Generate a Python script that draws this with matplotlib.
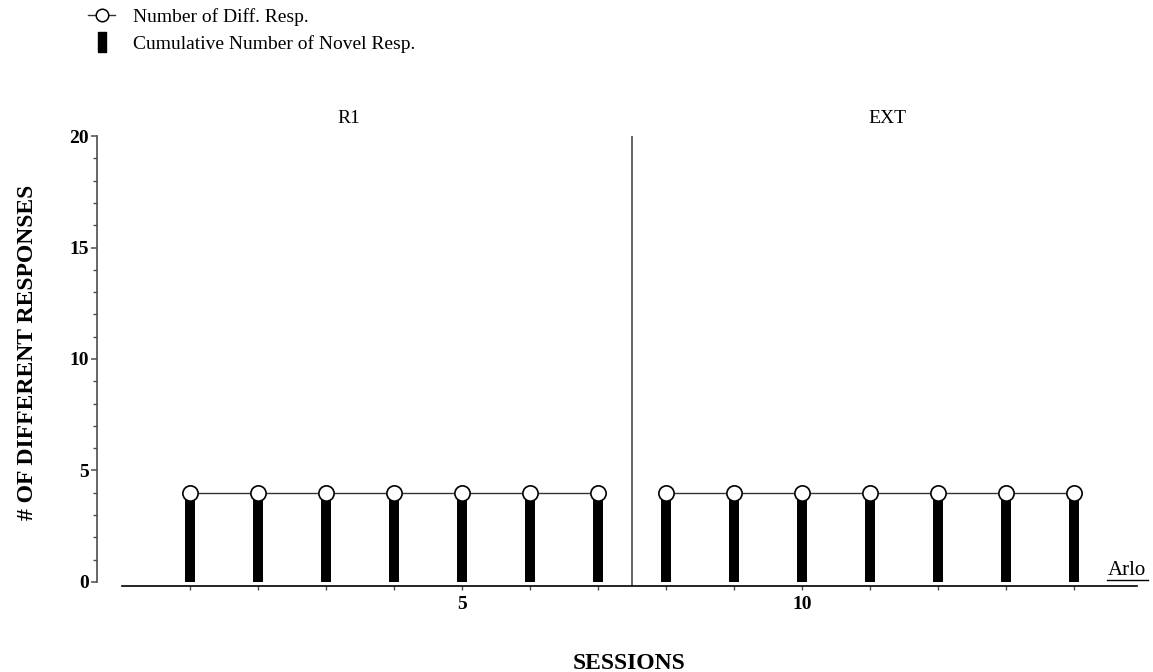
import numpy as np
import matplotlib.pyplot as plt
from matplotlib.lines import Line2D

plt.rcParams['font.family'] = ['Liberation Serif', 'DejaVu Serif']

# data
sessions_r1 = [1, 2, 3, 4, 5, 6, 7]
sessions_ext = [8, 9, 10, 11, 12, 13, 14]
diff_r1 = [4, 4, 4, 4, 4, 4, 4]
diff_ext = [4, 4, 4, 4, 4, 4, 4]
novel_cum = [4, 4, 4, 4, 4, 4, 4, 4, 4, 4, 4, 4, 4, 4]
phase_labels = ['R1', 'EXT']
phase_change = 7.5
subject = 'Arlo'

fig = plt.figure(figsize=(11.53, 6.72), dpi=100)
ax = fig.add_axes([0.0841, 0.128, 0.9046, 0.6696])

spine_col = '#4d4d4d'
all_sessions = sessions_r1 + sessions_ext

# cumulative novel responses (bars)
ax.bar(all_sessions, novel_cum, width=0.16, color='black', zorder=2)

# number of different responses, line broken at the phase change
for xs, ys in [(sessions_r1, diff_r1), (sessions_ext, diff_ext)]:
    ax.plot(xs, ys, color='#333333', lw=1.0, marker='o', ms=11,
            mfc='white', mec='black', mew=1.2, zorder=3)

ax.set_xlim(-0.368, 14.97)
ax.set_ylim(-0.18, 20)

# phase change line
ax.axvline(phase_change, color=spine_col, lw=1.2)
ax.text(3.33, 20.8, phase_labels[0], ha='center', va='center', fontsize=14,
        clip_on=False)
ax.text(11.25, 20.8, phase_labels[1], ha='center', va='center', fontsize=14,
        clip_on=False)

# spines
for s in ['top', 'right']:
    ax.spines[s].set_visible(False)
ax.spines['left'].set_bounds(0, 20)
ax.spines['left'].set_color(spine_col)
ax.spines['left'].set_linewidth(1.2)
ax.spines['bottom'].set_bounds(0.0, 14.93)
ax.spines['bottom'].set_color('black')
ax.spines['bottom'].set_linewidth(1.2)

ax.set_yticks([0, 5, 10, 15, 20])
ax.set_yticks(np.arange(0, 21, 1), minor=True)
ax.tick_params(axis='y', which='major', length=4.5, width=1.1, color=spine_col,
               labelsize=14, pad=1.5)
ax.tick_params(axis='y', which='minor', length=3, width=1.0, color=spine_col)
for lab in ax.get_yticklabels():
    lab.set_fontweight('bold')

ax.set_xticks(all_sessions)
ax.set_xticklabels(['5' if s == 5 else '10' if s == 10 else '' for s in all_sessions])
ax.tick_params(axis='x', length=3, width=1.0, color=spine_col, labelsize=14, pad=4.5)
for lab in ax.get_xticklabels():
    lab.set_fontweight('bold')

fig.text(28 / 1153, 1 - 352 / 672, '# OF DIFFERENT RESPONSES', rotation=90,
         ha='center', va='center', fontsize=17, fontweight='bold')
fig.text(629 / 1153, 0.0045, 'SESSIONS', ha='center', va='baseline',
         fontsize=17, fontweight='bold')

# subject name, underlined
ax.text(14.49, 0.31, subject, ha='left', va='baseline', fontsize=15, clip_on=False)
ax.plot([14.49, 15.09], [0.09, 0.09], color='black', lw=1.0, clip_on=False)

# legend
handles = [
    Line2D([], [], color='#333333', lw=1.0, marker='o', ms=9, mfc='white',
           mec='black', mew=1.1),
    Line2D([], [], ls='none', color='black',
           marker=[(-0.45, -1), (0.45, -1), (0.45, 1), (-0.45, 1), (-0.45, -1)],
           ms=14),
]
fig.legend(handles, ['Number of Diff. Resp.', 'Cumulative Number of Novel Resp.'],
           loc='upper left', bbox_to_anchor=(0.0763, 0.988), frameon=False,
           fontsize=14, handlelength=1.4, handletextpad=0.9, labelspacing=0.45,
           borderpad=0.0, borderaxespad=0.0)

fig.savefig('out.png', dpi=100)
